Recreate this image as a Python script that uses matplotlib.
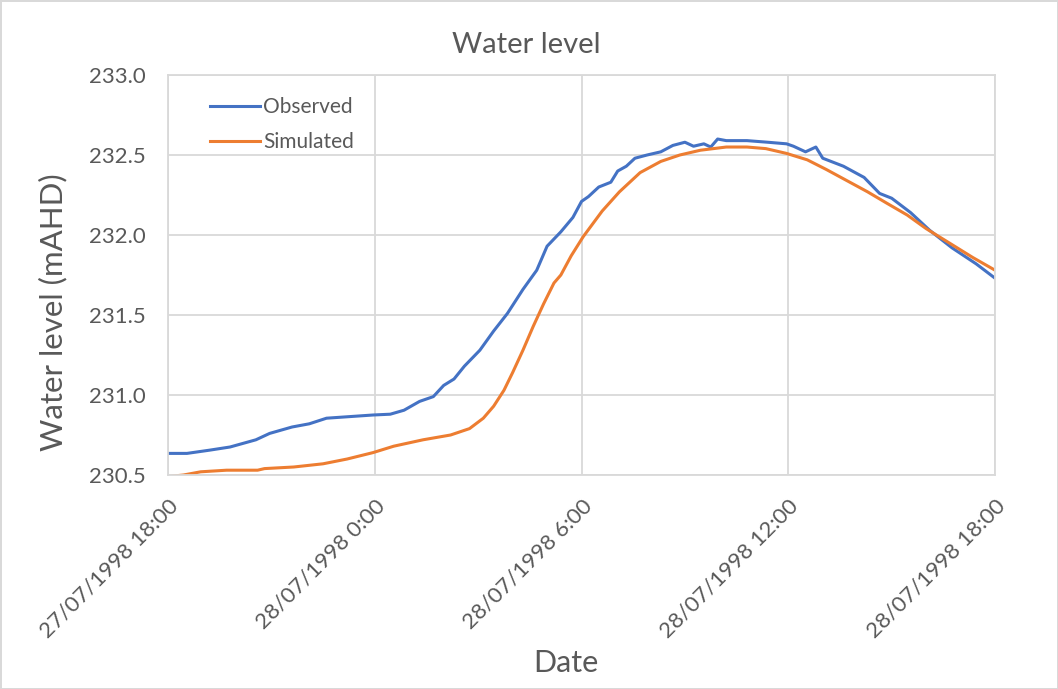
import matplotlib
matplotlib.use("Agg")
import matplotlib.pyplot as plt

# hours after 27/07/1998 18:00
obs_hours = [0, 0.55, 1.2, 1.8, 2.55, 2.95, 3.6, 4.1, 4.6, 5.95, 6.45, 6.85, 7.3, 7.7,
             8.0, 8.3, 8.6, 9.05, 9.45, 9.85, 10.3, 10.7, 11.0, 11.4, 11.75, 12.0,
             12.2, 12.5, 12.85, 13.05, 13.3, 13.55, 13.9, 14.3, 14.65, 15.0, 15.25,
             15.55, 15.75, 15.95, 16.2, 16.8, 17.4, 17.95, 18.15, 18.5, 18.8, 19.0,
             19.6, 20.2, 20.65, 21.0, 21.55, 22.1, 22.75, 23.45, 24.0]
obs_level = [230.635, 230.635, 230.655, 230.675, 230.72, 230.76, 230.80, 230.82, 230.855,
             230.875, 230.88, 230.905, 230.96, 230.99, 231.06, 231.10, 231.18, 231.28,
             231.40, 231.51, 231.66, 231.78, 231.93, 232.02, 232.11, 232.21, 232.24,
             232.30, 232.33, 232.40, 232.43, 232.48, 232.50, 232.52, 232.56, 232.58,
             232.555, 232.57, 232.55, 232.60, 232.59, 232.59, 232.58, 232.57, 232.555,
             232.52, 232.55, 232.48, 232.43, 232.36, 232.26, 232.23, 232.14, 232.03,
             231.92, 231.82, 231.73]

sim_hours = [0, 0.45, 0.95, 1.7, 2.6, 2.8, 3.65, 4.5, 5.2, 5.95, 6.55, 7.4, 8.2, 8.75,
             9.15, 9.45, 9.75, 10.0, 10.3, 10.6, 10.9, 11.2, 11.4, 11.7, 12.05, 12.6,
             13.1, 13.7, 14.3, 14.85, 15.45, 16.2, 16.8, 17.35, 17.95, 18.55, 19.1,
             19.7, 20.3, 20.85, 21.45, 22.0, 22.6, 23.35, 24.0]
sim_level = [230.49, 230.50, 230.52, 230.53, 230.53, 230.54, 230.55, 230.57, 230.60,
             230.64, 230.68, 230.72, 230.75, 230.79, 230.855, 230.93, 231.03, 231.14,
             231.28, 231.43, 231.57, 231.70, 231.75, 231.87, 231.99, 232.15, 232.27,
             232.39, 232.46, 232.50, 232.53, 232.55, 232.55, 232.54, 232.51, 232.47,
             232.41, 232.34, 232.27, 232.20, 232.125, 232.04, 231.96, 231.86, 231.78]

tick_hours = [0, 6, 12, 18, 24]
tick_labels = ['27/07/1998 18:00', '28/07/1998 0:00', '28/07/1998 6:00',
               '28/07/1998 12:00', '28/07/1998 18:00']
y_ticks = [230.5, 231.0, 231.5, 232.0, 232.5, 233.0]

plt.rcParams['font.family'] = ['Lato', 'DejaVu Sans']
grey = '#595959'
grid_c = '#D9D9D9'

fig = plt.figure(figsize=(10.58, 6.89), dpi=100)
fig.patch.set_edgecolor(grid_c)
fig.patch.set_linewidth(2)
ax = fig.add_axes([0.1588, 0.3106, 0.7817, 0.5805])

ax.plot(obs_hours, obs_level, color='#4472C4', lw=2.2, label='Observed')
ax.plot(sim_hours, sim_level, color='#ED7D31', lw=2.2, label='Simulated')

ax.set_xlim(0, 24)
ax.set_ylim(230.5, 233.0)
ax.set_xticks(tick_hours)
ax.set_xticklabels(tick_labels, rotation=45, ha='right', rotation_mode='anchor')
ax.set_yticks(y_ticks)
ax.set_yticklabels([f'{v:.1f}' for v in y_ticks])
ax.tick_params(length=0, labelsize=16, colors=grey)
ax.tick_params(axis='x', pad=15)
ax.tick_params(axis='y', pad=16)
ax.grid(True, color=grid_c, lw=1.3)
ax.set_axisbelow(True)
for s in ax.spines.values():
    s.set_color(grid_c)
    s.set_linewidth(1.3)

fig.text(0.497, 1 - 53 / 689, 'Water level', fontsize=21, color=grey,
         ha='center', va='baseline')
ax.set_xlabel('Date', fontsize=22, color=grey)
ax.xaxis.set_label_coords(0.481, -0.435)
ax.set_ylabel('Water level (mAHD)', fontsize=22.5, color=grey)
ax.yaxis.set_label_coords(-0.122, 0.406)

ax.legend(loc='upper left', frameon=False, fontsize=15, labelcolor=grey,
          handlelength=2.4, handletextpad=0.15, borderaxespad=0, borderpad=0,
          labelspacing=0.72, bbox_to_anchor=(0.051, 0.944))

fig.savefig('out.png', dpi=100)
